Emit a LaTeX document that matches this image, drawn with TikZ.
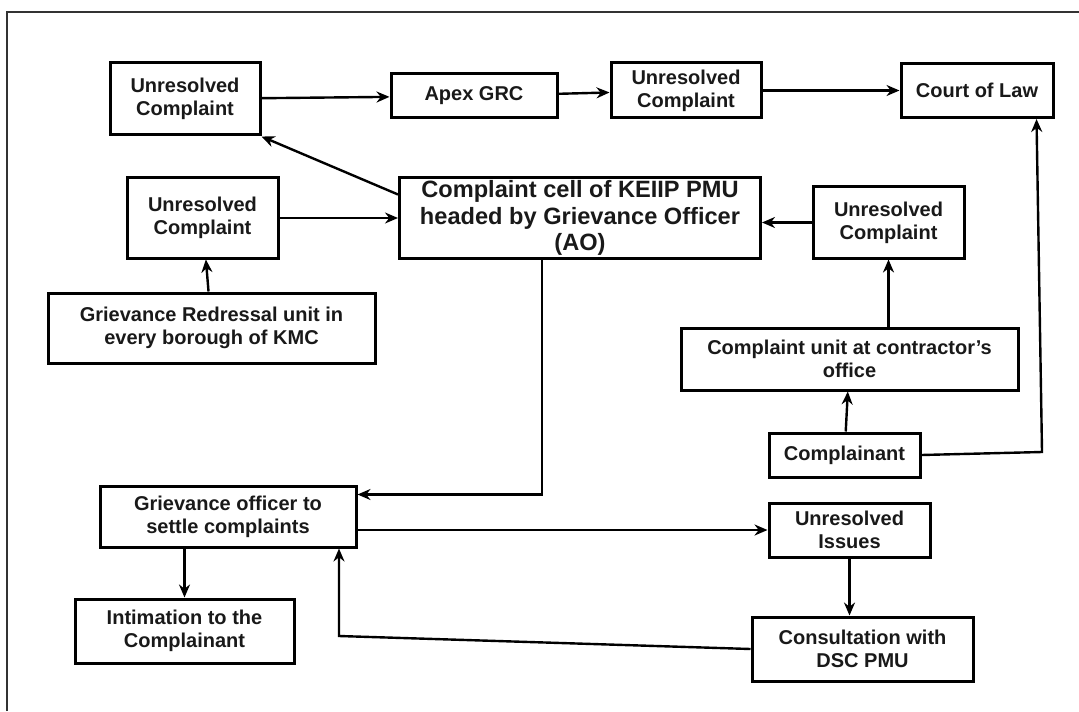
\documentclass[tikz,border=0pt]{standalone}
\usepackage{fontspec}
\setmainfont{Liberation Sans}
\usetikzlibrary{arrows.meta}

\tikzset{
  box/.style={draw, line width=1.5pt, align=center, inner sep=1pt, text=black!90,
    font=\fontsize{10}{11.5}\selectfont\bfseries},
  bigbox/.style={box, font=\fontsize{11.8}{13.3}\selectfont\bfseries},
  link/.style={line width=1.2pt, -{Stealth[length=6.5pt,width=5.5pt]}},
}

\begin{document}
\begin{tikzpicture}[x=0.5pt,y=-0.5pt]
	\useasboundingbox (0,0) rectangle (1079,711);
	\draw[line width=0.8pt, black!80] (7,711) -- (7,12) -- (1079,12);

	% top row
	\node[box, minimum width=75pt, minimum height=36pt] (uc1) at (185,99) {Unresolved\\Complaint};
	\node[box, minimum width=83pt, minimum height=22pt] (apex) at (474,96) {Apex GRC};
	\node[box, minimum width=75pt, minimum height=27.5pt] (uc2) at (686,90.5) {Unresolved\\Complaint};
	\node[box, minimum width=76pt, minimum height=27pt] (court) at (977,90.5) {Court of Law};

	% middle
	\node[box, minimum width=75.5pt, minimum height=40pt] (uc3) at (202.5,218) {Unresolved\\Complaint};
	\node[bigbox, minimum width=180.5pt, minimum height=40pt] (cell) at (580,218) {Complaint cell of KEIIP PMU\\headed by Grievance Officer\\(AO)};
	\node[box, minimum width=75.5pt, minimum height=35.5pt] (uc4) at (888.5,222.5) {Unresolved\\Complaint};
	\node[box, minimum width=163.5pt, minimum height=35pt] (gru) at (211.5,328) {Grievance Redressal unit in\\every borough of KMC};
	\node[box, minimum width=168.5pt, minimum height=31pt] (cuo) at (849.5,359) {Complaint unit at contractor's\\office};
	\node[box, minimum width=75.5pt, minimum height=22pt] (complainant) at (844.5,455) {Complainant};

	% bottom
	\node[box, minimum width=128pt, minimum height=30.5pt] (go) at (228,516.5) {Grievance officer to\\settle complaints};
	\node[box, minimum width=80.5pt, minimum height=27pt] (ui) at (849.5,530) {Unresolved\\Issues};
	\node[box, minimum width=109.5pt, minimum height=32pt] (intim) at (184.5,631) {Intimation to the\\Complainant};
	\node[box, minimum width=110.5pt, minimum height=32pt] (consult) at (862.5,649) {Consultation with\\DSC PMU};

	\coordinate (turn) at (1042,452);
	\coordinate (back) at (339,636);

	\path[link]
		(uc1) edge (apex)
		(apex) edge (uc2)
		(uc2) edge (court)
		([yshift=-9pt]cell.north west) edge (uc1.south east)
		(uc3) edge (cell)
		(uc4.west) edge (uc4.west -| cell.east)
		(gru) edge (uc3)
		(cuo.north -| uc4) edge (uc4)
		(complainant) edge (cuo)
		(go.east |- ui.west) edge (ui.west)
		(intim.north |- go.south) edge (intim.north)
		(ui) edge (ui.south |- consult.north)
		;
	\draw[link] (complainant.east) -- (turn) -- ([xshift=-9pt]court.south east);
	\draw[link] ([xshift=-19pt]cell.south) |- ([yshift=11pt]go.east);
	\draw[link] (consult.west) -- (back) -- (back |- go.south);
\end{tikzpicture}
\end{document}
